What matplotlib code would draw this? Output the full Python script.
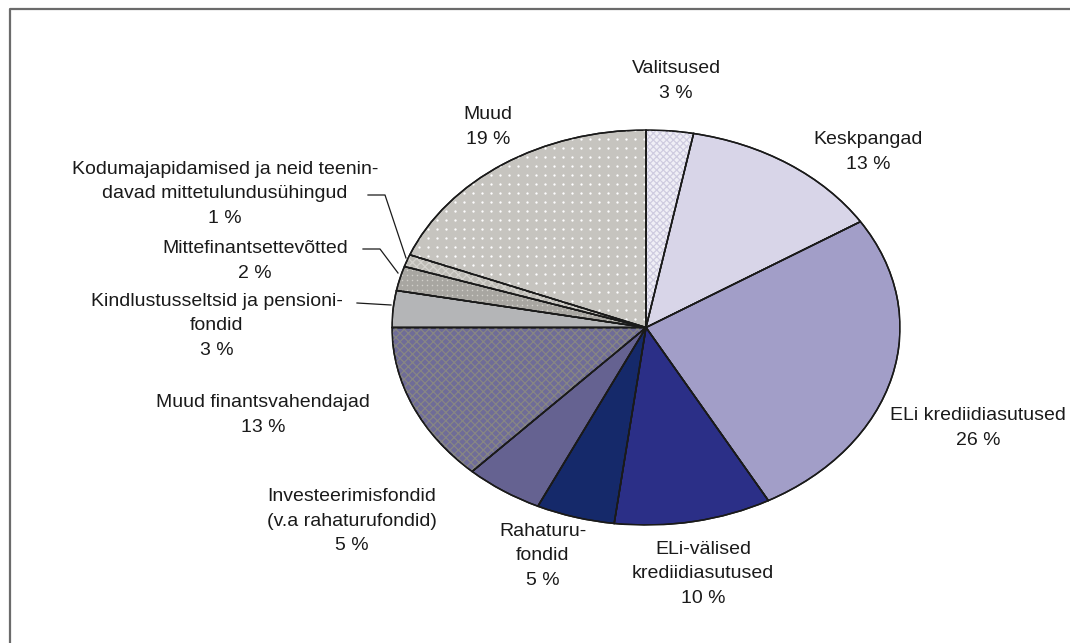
import numpy as np
import matplotlib
matplotlib.use("Agg")
import matplotlib.pyplot as plt
from matplotlib.patches import Wedge

plt.rcParams['font.family'] = ['Liberation Sans', 'DejaVu Sans']
plt.rcParams['hatch.linewidth'] = 0.9

# Sectors, clockwise from 12 o'clock
sectors = ["Valitsused", "Keskpangad", "ELi krediidiasutused",
           "ELi-välised\nkrediidiasutused", "Rahaturu-\nfondid",
           "Investeerimisfondid\n(v.a rahaturufondid)", "Muud finantsvahendajad",
           "Kindlustusseltsid ja pensioni-\nfondid", "Mittefinantsettevõtted",
           "Kodumajapidamised ja neid teenin-\ndavad mittetulundusühingud", "Muud"]
shares = [3, 13, 26, 10, 5, 5, 13, 3, 2, 1, 19]

base_colors = ["#f0eff6", "#d8d5e8", "#a29ec8", "#2b2f87", "#15296a", "#656291",
               "#6f6c98", "#b4b5b7", "#a8a6a1", "#bdbbb5", "#c6c4bf"]
# hatch overlays: (pattern, colour)
hatches = {0: ("xxxxx", "#cfcce0"), 6: ("xxxx", "#878683"), 9: ("xxxx", "#d5d3ce")}
# dotted textures: (spacing px, colour, size)
dots = {8: (5, "#d2d0cb", 1.2), 10: (9, "white", 2.8)}

W, H = 1070, 643
fig = plt.figure(figsize=(W / 100, H / 100), dpi=100)

# pie bounding box in pixels
left, right, top, bottom = 392, 900, 130, 525
cx, cy = (left + right) / 2, (top + bottom) / 2
rx, ry = (right - left) / 2, (bottom - top) / 2
ax = fig.add_axes([left / W, 1 - bottom / H, (right - left) / W, (bottom - top) / H])
wedges, _ = ax.pie(shares, colors=base_colors, startangle=90, counterclock=False,
                   wedgeprops=dict(edgecolor="#1a1a1a", linewidth=1.1))
ax.set_aspect('auto')
ax.set_xlim(-1, 1)
ax.set_ylim(-1, 1)
ax.axis('off')

for i, (pat, col) in hatches.items():
    w = wedges[i]
    ov = Wedge(w.center, w.r, w.theta1, w.theta2, fill=False, edgecolor=col,
               linewidth=0, hatch=pat, zorder=w.get_zorder() + 0.1)
    ax.add_patch(ov)

for i, (step, col, size) in dots.items():
    w = wedges[i]
    gx, gy = np.meshgrid(np.arange(left, right, step), np.arange(top, bottom, step))
    sc = ax.scatter((gx.ravel() - cx) / rx, (cy - gy.ravel()) / ry, s=size, c=col,
                    linewidths=0, zorder=w.get_zorder() + 0.1)
    sc.set_clip_path(w)

# redraw outlines above the textures
for w in wedges:
    ol = Wedge(w.center, w.r, w.theta1, w.theta2, fill=False, edgecolor="#1a1a1a",
               linewidth=1.1, zorder=w.get_zorder() + 0.2)
    ax.add_patch(ol)

# overlay in pixel coordinates for labels, leader lines and frame
ov = fig.add_axes([0, 0, 1, 1], facecolor='none')
ov.set_xlim(0, W)
ov.set_ylim(H, 0)
ov.axis('off')

label_pos = [(676, 81), (868, 152), (978, 428), (703, 574), (543, 556),
             (352, 521), (263, 415), (217, 326), (255, 261), (225, 194), (488, 127)]
for name, val, (x, y) in zip(sectors, shares, label_pos):
    ov.text(x, y, f"{name}\n{val} %", ha='center', va='center', multialignment='center',
            fontsize=14, color="#1a1a1a", linespacing=1.55)

leaders = [([368, 385, 406], [195, 195, 258]),
           ([363, 380, 398], [249, 249, 273]),
           ([357, 391], [303, 305])]
for xs, ys in leaders:
    ov.plot(xs, ys, color="#1a1a1a", lw=0.9)

ov.plot([10, 10, W], [H, 9, 9], color="#6b6b6b", lw=1.6, solid_capstyle='butt')

fig.savefig("out.png", dpi=100)
